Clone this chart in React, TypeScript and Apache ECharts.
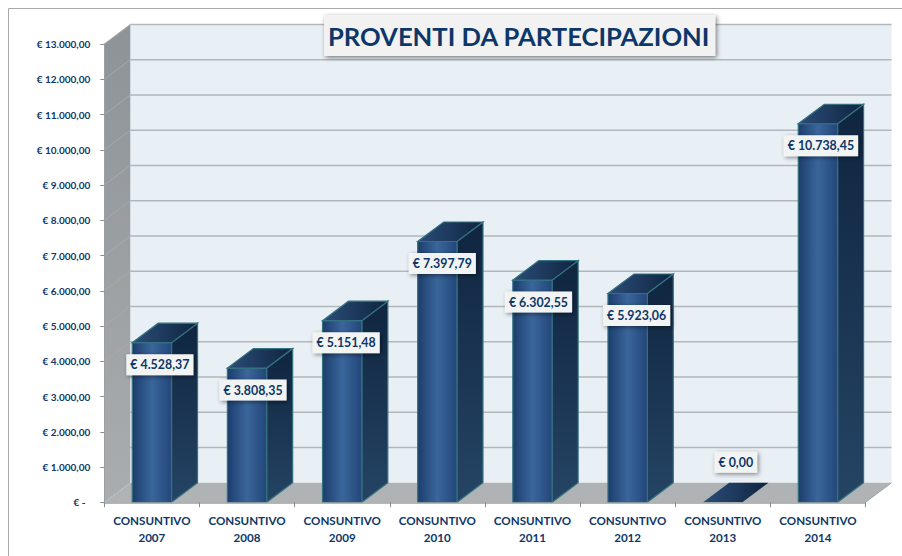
import React, { useEffect, useRef } from "react";
import * as echarts from "echarts";

const categories = ["2007", "2008", "2009", "2010", "2011", "2012", "2013", "2014"];
const values = [4528.37, 3808.35, 5151.48, 7397.79, 6302.55, 5923.06, 0, 10738.45];
const yTicks = [0, 1000, 2000, 3000, 4000, 5000, 6000, 7000, 8000, 9000, 10000, 11000, 12000, 13000];
const titleText = "PROVENTI DA PARTECIPAZIONI";
const labelPrefix = "CONSUNTIVO";

const FONT = "Lato, Carlito, sans-serif";
const NAVY = "#0d3768";
const DX = 26;
const DY = 19.5;
const labelNudgeX = [8, 6, 4, 5, 6, 9, 13, 3];

function euro(v: number): string {
  const [i, d] = v.toFixed(2).split(".");
  return "€ " + i.replace(/\B(?=(\d{3})+(?!\d))/g, ".") + "," + d;
}
function hGrad(stops: [number, string][]) {
  return new echarts.graphic.LinearGradient(0, 0, 1, 0, stops.map(([offset, color]) => ({ offset, color })));
}
function vGrad(stops: [number, string][]) {
  return new echarts.graphic.LinearGradient(0, 0, 0, 1, stops.map(([offset, color]) => ({ offset, color })));
}

const measureCtx = document.createElement("canvas").getContext("2d")!;
function textWidth(t: string, font: string) {
  measureCtx.font = font;
  return measureCtx.measureText(t).width;
}

export default function App() {
  const ref = useRef<HTMLDivElement>(null);
  useEffect(() => {
    document.body.style.margin = "0";
    const chart = echarts.init(ref.current!, undefined, { renderer: "svg" });
    const wallItem = (params: any, api: any) => {
      const cs = params.coordSys;
      const y = api.coord([0, api.value(0)])[1];
      const x0 = cs.x;
      const x1 = cs.x + cs.width;
      const children: any[] = [];
      if (params.dataIndex === 0) {
        const bot = cs.y + cs.height;
        children.push(
          { type: "polygon", shape: { points: [[x0 + DX, cs.y - DY], [x1 + DX, cs.y - DY], [x1 + DX, bot - DY], [x0 + DX, bot - DY]] }, style: { fill: "#e8eff5" } },
          { type: "polygon", shape: { points: [[x0, cs.y], [x0 + DX, cs.y - DY], [x0 + DX, bot - DY], [x0, bot]] }, style: { fill: vGrad([[0, "#8e9397"], [1, "#a9adb0"]]) } },
          { type: "polygon", shape: { points: [[x0, bot], [x0 + DX, bot - DY], [x1 + DX, bot - DY], [x1, bot]] }, style: { fill: "#afb3b5" } },
          { type: "line", shape: { x1: x1, y1: bot, x2: x1 + DX, y2: bot - DY }, style: { stroke: "#a0a3a5", lineWidth: 1 } }
        );
      } else {
        children.push(
          { type: "line", shape: { x1: x0 + DX, y1: y - DY, x2: x1 + DX, y2: y - DY }, style: { stroke: "#b3b7b9", lineWidth: 1.6 } },
          { type: "line", shape: { x1: x0, y1: y, x2: x0 + DX, y2: y - DY }, style: { stroke: "#a6aaad", lineWidth: 1 } }
        );
      }
      return { type: "group", children };
    };
    const barItem = (params: any, api: any) => {
      const idx = api.value(0);
      const val = api.value(1);
      const [cx, top] = api.coord([idx, val]);
      const bot = api.coord([idx, 0])[1];
      const band = api.size([1, 0])[0];
      const w = band * 0.413;
      const l = cx - w / 2;
      const r = cx + w / 2;
      const edge = val > 0 ? { stroke: "#34727f", lineWidth: 1.2 } : { stroke: "none" };
      const children: any[] = [];
      if (val > 0) {
        children.push(
          { type: "polygon", shape: { points: [[r, top], [r + DX, top - DY], [r + DX, bot - DY], [r, bot]] }, style: { fill: vGrad([[0, "#0f2540"], [1, "#254464"]]), ...edge } },
          { type: "polygon", shape: { points: [[l, top], [r, top], [r, bot], [l, bot]] }, style: { fill: hGrad([[0, "#1c3d6c"], [0.5, "#3a669b"], [1, "#23467a"]]), ...edge } }
        );
      }
      children.push({
        type: "polygon",
        shape: { points: [[l, top], [r, top], [r + DX, top - DY], [l + DX, top - DY]] },
        style: { fill: hGrad([[0, "#2b4d78"], [1, "#0f2440"]]), ...edge },
      });
      const text = euro(val);
      const font = `bold 12.4px ${FONT}`;
      const tw = textWidth(text, font) + 8;
      const lx = cx + labelNudgeX[idx];
      const ly = val > 0 ? top + 22 : top - 40;
      children.push(
        { type: "rect", shape: { x: lx - tw / 2, y: ly - 10.5, width: tw, height: 21 }, style: { fill: "#f2f3f3", shadowBlur: 4, shadowColor: "rgba(0,0,0,0.45)", shadowOffsetX: 1.5, shadowOffsetY: 1.5 } },
        { type: "text", style: { text, x: lx, y: ly, align: "center", verticalAlign: "middle", fill: NAVY, font } }
      );
      return { type: "group", children };
    };
    chart.setOption({
      animation: false,
      backgroundColor: "#ffffff",
      title: {
        text: titleText,
        left: 324,
        top: 15,
        padding: [6, 5, 6, 4],
        backgroundColor: "#f2f2f3",
        shadowBlur: 4,
        shadowColor: "rgba(0,0,0,0.5)",
        shadowOffsetX: 1.5,
        shadowOffsetY: 1.5,
        textStyle: { color: NAVY, fontFamily: FONT, fontWeight: "bold", fontSize: 25.6, lineHeight: 29 },
        z: 20,
      },
      grid: { left: 104.3, right: 902 - 865.5, top: 44, bottom: 556 - 502.3 },
      xAxis: {
        type: "category",
        data: categories,
        z: 5,
        axisLine: { lineStyle: { color: "#9c9fa1", width: 1.5 } },
        axisTick: { show: true, length: 5, alignWithLabel: false, lineStyle: { color: "#8a8d8f" } },
        axisLabel: {
          margin: 10,
          color: NAVY,
          fontFamily: FONT,
          fontWeight: "bold",
          fontSize: 11.6,
          lineHeight: 17,
          interval: 0,
          formatter: (v: string) => `${labelPrefix}\n${v}`,
        },
      },
      yAxis: {
        type: "value",
        min: 0,
        max: 13000,
        interval: 1000,
        z: 5,
        splitLine: { show: false },
        axisLine: { show: true, lineStyle: { color: "#9c9fa1", width: 1 } },
        axisTick: { show: true, length: 4, lineStyle: { color: "#8a8d8f" } },
        axisLabel: {
          margin: 14,
          color: NAVY,
          fontFamily: FONT,
          fontWeight: "bold",
          fontSize: 10,
          formatter: (v: number) => (v === 0 ? "€ -\u00a0\u00a0" : euro(v)),
        },
      },
      graphic: [
        { type: "line", shape: { x1: 8.5, y1: 8.5, x2: 902, y2: 8.5 }, style: { stroke: "#a9a9a9", lineWidth: 1 }, silent: true },
        { type: "line", shape: { x1: 8.5, y1: 8.5, x2: 8.5, y2: 556 }, style: { stroke: "#a9a9a9", lineWidth: 1 }, silent: true },
      ],
      series: [
        { type: "custom", name: "walls", coordinateSystem: "cartesian2d", renderItem: wallItem, clip: false, silent: true, z: 1, encode: { y: 0 }, data: yTicks.map((t) => [t]) },
        { type: "custom", name: "bars", coordinateSystem: "cartesian2d", renderItem: barItem, clip: false, silent: true, z: 3, encode: { x: 0, y: 1 }, data: values.map((v, i) => [i, v]) },
      ],
    });
    return () => chart.dispose();
  }, []);
  return <div ref={ref} style={{ position: "absolute", left: 0, top: 0, width: 902, height: 556 }} />;
}
